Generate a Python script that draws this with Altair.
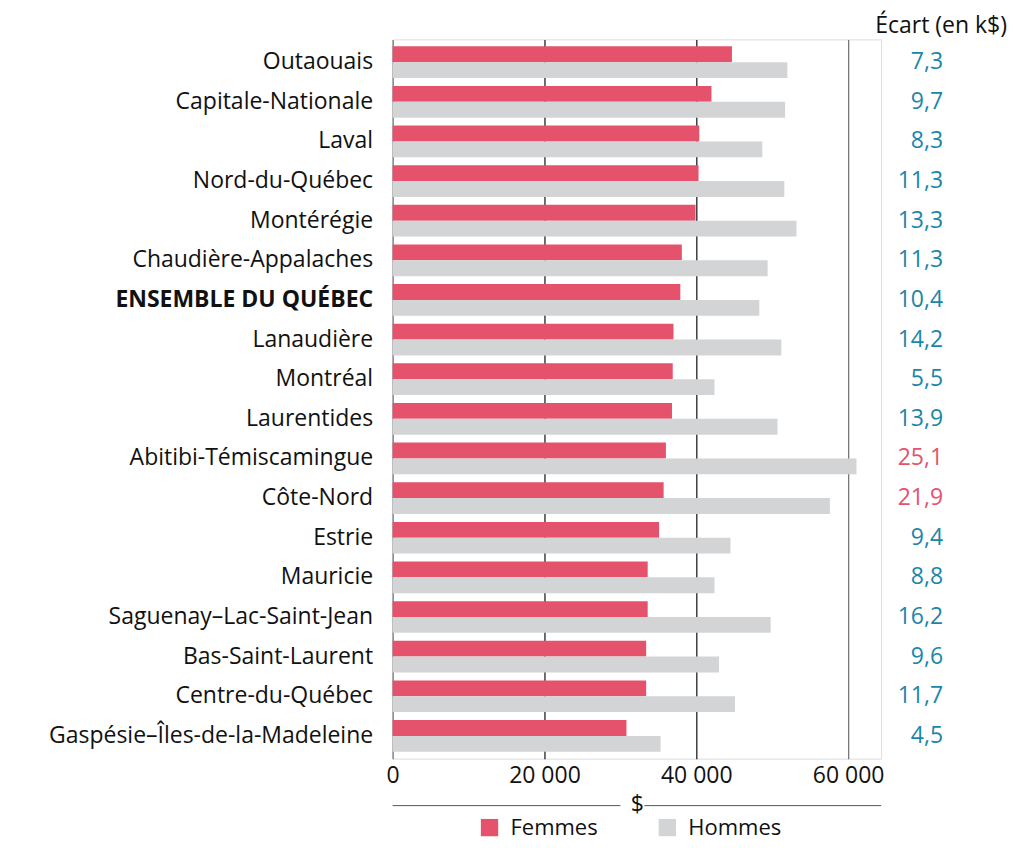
import altair as alt
import pandas as pd

regions = [
    "Outaouais", "Capitale-Nationale", "Laval", "Nord-du-Québec", "Montérégie",
    "Chaudière-Appalaches", "ENSEMBLE DU QUÉBEC", "Lanaudière", "Montréal",
    "Laurentides", "Abitibi-Témiscamingue", "Côte-Nord", "Estrie", "Mauricie",
    "Saguenay–Lac-Saint-Jean", "Bas-Saint-Laurent", "Centre-du-Québec",
    "Gaspésie–Îles-de-la-Madeleine",
]
femmes = [44700, 42000, 40400, 40300, 39900, 38100, 37900, 37000, 36900,
          36800, 36000, 35700, 35100, 33600, 33600, 33400, 33400, 30800]
hommes = [52000, 51700, 48700, 51600, 53200, 49400, 48300, 51200, 42400,
          50700, 61100, 57600, 44500, 42400, 49800, 43000, 45100, 35300]
ecarts = [7.3, 9.7, 8.3, 11.3, 13.3, 11.3, 10.4, 14.2, 5.5,
          13.9, 25.1, 21.9, 9.4, 8.8, 16.2, 9.6, 11.7, 4.5]
series = ["Femmes", "Hommes"]
x_ticks = [0, 20000, 40000, 60000]

rows = []
for r, f, h in zip(regions, femmes, hommes):
    rows.append({"region": r, "sexe": "Femmes", "valeur": f})
    rows.append({"region": r, "sexe": "Hommes", "valeur": h})
df = pd.DataFrame(rows)
df_ecart = pd.DataFrame({
    "region": regions,
    "ecart": ecarts,
    "label": [f"{e:.1f}".replace(".", ",") for e in ecarts],
})

W, H = 489, 720
FONT = "Open Sans"
FS = 23

y_enc = alt.Y(
    "region:N", sort=regions,
    scale=alt.Scale(paddingInner=0.2, paddingOuter=0.175),
    axis=alt.Axis(
        title=None, domain=False, ticks=False, labelFontSize=FS,
        labelPadding=20, labelColor="#111", labelLimit=500,
        labelFontWeight=alt.expr("datum.label == 'ENSEMBLE DU QUÉBEC' ? 'bold' : 'normal'"),
    ),
)

bars = alt.Chart(df).mark_bar().encode(
    x=alt.X(
        "valeur:Q",
        scale=alt.Scale(domain=[0, 64350], nice=False),
        axis=alt.Axis(
            values=x_ticks,
            labelExpr="replace(format(datum.value, ','), ',', ' ')",
            title="$", titleFontSize=FS, titleFontWeight="normal",
            titlePadding=6, titleColor="#111",
            grid=True, domain=False, ticks=False, labelFlush=False,
            labelFontSize=FS, labelPadding=6, labelColor="#111",
            gridColor=alt.expr("(datum.value == 20000 || datum.value == 40000) ? '#222' : '#777'"),
            gridWidth=1.3,
        ),
    ),
    y=y_enc,
    yOffset=alt.YOffset("sexe:N", sort=series),
    color=alt.Color(
        "sexe:N",
        scale=alt.Scale(domain=series, range=["#e5526c", "#d3d4d6"]),
        legend=alt.Legend(
            title=None, orient="none", direction="horizontal",
            legendX=86, legendY=H + 58, symbolType="square", symbolSize=300,
            symbolStrokeWidth=0, labelFontSize=22, labelColor="#111",
            labelOffset=10, columnPadding=58,
        ),
    ),
)

ecart_text = alt.Chart(df_ecart).mark_text(
    align="right", baseline="middle", fontSize=FS,
).encode(
    y=alt.Y("region:N", sort=regions),
    x=alt.value(551),
    text="label:N",
    color=alt.condition("datum.ecart > 20", alt.value("#e5526c"), alt.value("#1b86a8")),
)

header = alt.Chart(pd.DataFrame({"t": ["Écart (en k$)"]})).mark_text(
    align="right", baseline="middle", fontSize=FS, color="#111",
).encode(x=alt.value(615), y=alt.value(-13), text="t:N")

rule_left = alt.Chart(pd.DataFrame({"a": [0]})).mark_rule(color="#555", strokeWidth=1).encode(
    x=alt.value(0), x2=alt.value(228), y=alt.value(H + 47)
)
rule_right = alt.Chart(pd.DataFrame({"a": [0]})).mark_rule(color="#555", strokeWidth=1).encode(
    x=alt.value(252), x2=alt.value(W), y=alt.value(H + 47)
)

chart = alt.layer(bars, ecart_text, header, rule_left, rule_right).properties(
    width=W, height=H,
    padding={"left": 40, "top": 7, "right": 0, "bottom": 3},
).configure_view(stroke=None).configure(font=FONT)

chart.save("out.html", embed_options={"renderer": "svg", "actions": False})
